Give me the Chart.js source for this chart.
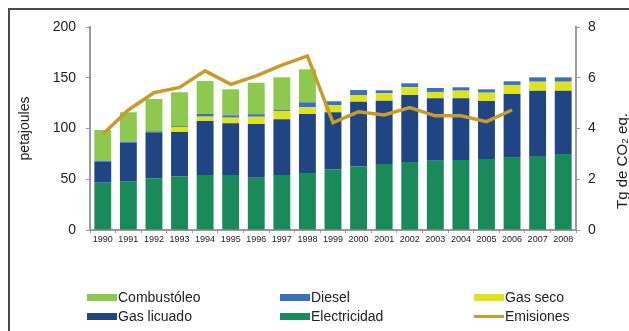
<!DOCTYPE html>
<html lang="es">
<head>
  <meta charset="UTF-8" />
  <title>Consumo de energía y emisiones</title>
  <script src="https://cdn.jsdelivr.net/npm/chart.js"></script>
  <style>
    html, body { margin: 0; padding: 0; background: #fff; }
    body { width: 629px; height: 331px; position: relative; overflow: hidden; font-family: "Liberation Sans", Arial, sans-serif; }
    #frame { position: absolute; left: 8px; top: 8px; width: 700px; height: 400px; border-top: 2px solid #4a4a4a; border-left: 2px solid #4a4a4a; }
    #wrap { position: absolute; left: 0; top: 0; width: 629px; height: 331px; }
    .lg-item { position: absolute; font-size: 14px; color: #222; white-space: nowrap; line-height: 16px; }
    .lg-box { position: absolute; left: 0; width: 30px; }
    .lg-text { position: absolute; left: 31px; top: 0; }
  </style>
</head>
<body>
  <div id="frame"></div>
  <div id="wrap"><canvas id="energyChart" width="629" height="331"></canvas></div>
  <div id="legend"></div>

  <script>
    const years = ["1990","1991","1992","1993","1994","1995","1996","1997","1998","1999",
                   "2000","2001","2002","2003","2004","2005","2006","2007","2008"];

    // petajoules
    const electricidad = [46.6, 47.6, 50.9, 52.9, 54.2, 54.2, 51.5, 54.2, 56.2, 59.8, 62.7, 65.0, 67.0, 68.3, 69.0, 70.0, 71.3, 72.9, 74.9];
    const gasLicuado  = [20.7, 38.4, 45.3, 43.7, 53.2, 51.0, 52.9, 54.9, 58.1, 56.2, 63.7, 62.4, 66.0, 61.4, 60.7, 57.1, 62.7, 64.3, 62.3];
    const gasSeco     = [0, 0, 0, 5.0, 4.3, 5.5, 7.2, 8.2, 6.6, 6.9, 6.6, 7.3, 7.6, 6.3, 7.6, 8.2, 8.9, 8.9, 8.9];
    const diesel      = [1.0, 1.0, 1.0, 1.0, 2.6, 2.3, 2.5, 1.3, 4.9, 3.9, 4.9, 2.9, 3.9, 3.9, 3.3, 3.3, 3.6, 4.3, 4.3];
    const combustoleo = [30.2, 29.0, 31.8, 33.1, 32.5, 25.6, 31.0, 31.8, 32.5, 0, 0, 0, 0, 0, 0, 0, 0, 0, 0];

    // Tg de CO2 eq.
    const emisiones = [3.77, 4.73, 5.41, 5.62, 6.27, 5.74, 6.07, 6.5, 6.86, 4.23, 4.66, 4.53, 4.82, 4.5, 4.5, 4.27, 4.73, null, null];

    const leftTicks = [0, 50, 100, 150, 200];
    const rightTicks = [0, 2, 4, 6, 8];

    const axisGray = '#9a9a9a';
    const FONT = '"Liberation Sans", Arial, sans-serif';

    // right axis title reads bottom-to-top, so draw it ourselves
    const rightTitle = {
      id: 'rightTitle',
      afterDraw(chart) {
        const ctx = chart.ctx;
        ctx.save();
        ctx.translate(623, 161);
        ctx.rotate(-Math.PI / 2);
        ctx.font = '15px ' + FONT;
        ctx.fillStyle = '#222';
        ctx.textAlign = 'center';
        ctx.textBaseline = 'middle';
        ctx.fillText('Tg de CO\u2082 eq.', 0, 0);
        ctx.restore();
      }
    };

    const barDs = (label, data, color) => ({
      type: 'bar', label: label, data: data, backgroundColor: color,
      yAxisID: 'y', order: 1, categoryPercentage: 1, barPercentage: 0.66
    });

    const chart = new Chart(document.getElementById('energyChart').getContext('2d'), {
      data: {
        labels: years,
        datasets: [
          {
            type: 'line', label: 'Emisiones', data: emisiones, yAxisID: 'y1', order: 0,
            borderColor: '#c99b2a', backgroundColor: '#c99b2a', borderWidth: 3.5,
            pointRadius: 0, tension: 0, spanGaps: false
          },
          barDs('Electricidad', electricidad, '#1b8a5a'),
          barDs('Gas licuado', gasLicuado, '#1f4582'),
          barDs('Gas seco', gasSeco, '#dfe31e'),
          barDs('Diesel', diesel, '#3a70c0'),
          barDs('Combustóleo', combustoleo, '#8cc94e')
        ]
      },
      options: {
        responsive: false,
        animation: false,
        layout: { padding: { top: 27, left: 0, right: 0, bottom: 0 } },
        plugins: { legend: { display: false }, tooltip: { enabled: false } },
        scales: {
          x: {
            stacked: true,
            grid: { drawOnChartArea: false, color: axisGray, tickLength: 3, offset: true },
            border: { color: axisGray, width: 2 },
            ticks: { color: '#222', font: { size: 9, family: FONT }, padding: 1, maxRotation: 0, autoSkip: false },
            afterFit(scale) { scale.height = 101; }
          },
          y: {
            position: 'left',
            stacked: true,
            min: 0, max: 200,
            afterBuildTicks(scale) { scale.ticks = leftTicks.map(v => ({ value: v })); },
            grid: { drawOnChartArea: false, color: axisGray, tickLength: 4 },
            border: { color: axisGray, width: 2 },
            ticks: { color: '#222', font: { size: 14, family: FONT }, padding: 10 },
            title: { display: true, text: 'petajoules', color: '#222', font: { size: 14, family: FONT }, padding: { top: 17, bottom: 0 } },
            afterFit(scale) { scale.width = 90; }
          },
          y1: {
            position: 'right',
            stacked: false,
            min: 0, max: 8,
            afterBuildTicks(scale) { scale.ticks = rightTicks.map(v => ({ value: v })); },
            grid: { drawOnChartArea: false, color: axisGray, tickLength: 4 },
            border: { color: axisGray, width: 2 },
            ticks: { color: '#222', font: { size: 14, family: FONT }, padding: 8 },
            afterFit(scale) { scale.width = 53; }
          }
        }
      },
      plugins: [rightTitle]
    });

    // HTML legend, three columns by two rows as in the original
    const legendOrder = ['Combustóleo', 'Diesel', 'Gas seco', 'Gas licuado', 'Electricidad', 'Emisiones'];
    const colX = [87, 280, 474];
    const rowY = [289, 308];
    const legend = document.getElementById('legend');
    legendOrder.forEach((name, i) => {
      const ds = chart.data.datasets.find(d => d.label === name);
      const item = document.createElement('div');
      item.className = 'lg-item';
      item.style.left = colX[i % 3] + 'px';
      item.style.top = rowY[Math.floor(i / 3)] + 'px';
      const box = document.createElement('span');
      box.className = 'lg-box';
      const isLine = ds.type === 'line';
      box.style.height = isLine ? '3px' : '7px';
      box.style.top = isLine ? '7px' : '5px';
      box.style.background = isLine ? ds.borderColor : ds.backgroundColor;
      const txt = document.createElement('span');
      txt.className = 'lg-text';
      txt.textContent = name;
      item.appendChild(box);
      item.appendChild(txt);
      legend.appendChild(item);
    });
  </script>
</body>
</html>
